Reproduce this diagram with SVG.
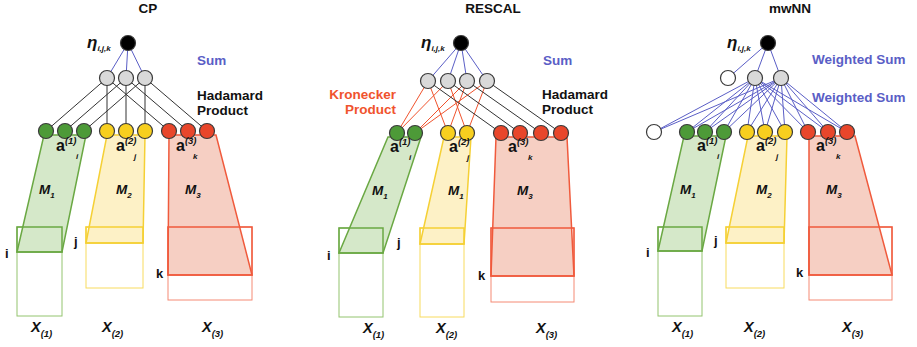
<svg xmlns="http://www.w3.org/2000/svg" width="917" height="347" viewBox="0 0 917 347">
<style>
text{font-family:"Liberation Sans",Arial,sans-serif;font-weight:bold;fill:#111}
.t{font-size:13.5px}
.blue{fill:#5a5ec6}
.kr{fill:#f0532d}
.eta{font-size:17px;font-style:italic}
.es{font-size:8px;font-style:italic}
.a{font-size:16px}
.sup{font-size:9.5px;font-style:italic}
.sub{font-size:8px;font-style:italic}
.xs{font-size:9.5px;font-style:italic}
.M{font-size:13.5px;font-style:italic}
.X{font-size:14.5px;font-style:italic}
.ijk{font-size:13px}
.n{stroke:#3a3a3a;stroke-width:1.2}
.g{fill:#4d9a38}.y{fill:#f7cf1f}.r{fill:#e8462b}.gr{fill:#d9d9d9}.bk{fill:#000}.w{fill:#fff}
.lk{stroke:#333;stroke-width:1;fill:none}
.lb{stroke:#5a5ec6;stroke-width:1;fill:none}
.lr{stroke:#f0532d;stroke-width:1;fill:none}
.gp{fill:#d5e8c9;stroke:#6aa843;stroke-width:1.5}
.yp{fill:#fdf1c6;stroke:#f5d035;stroke-width:1.5}
.rp{fill:#f6cfc3;stroke:#f05a3c;stroke-width:1.5}
.go{fill:#fff;stroke:#93c46e;stroke-width:1}
.yo{fill:#fff;stroke:#f8db5e;stroke-width:1}
.ro{fill:#fff;stroke:#f58a74;stroke-width:1}
.gi{fill:none;stroke:#6aa843;stroke-width:1.5}
.yi{fill:none;stroke:#f5d035;stroke-width:1.5}
.ri{fill:none;stroke:#f05a3c;stroke-width:1.5}
</style>

<!-- ===== CP panel ===== -->
<g id="cp-title"><text class="t" x="148" y="13" text-anchor="middle">CP</text></g>
<g id="cp-matrices">
  <rect class="go" x="17" y="227" width="45" height="89"/>
  <polygon class="gp" points="44,135 86,135 62,252 17,252"/>
  <rect class="gi" x="17" y="227" width="45" height="25"/>
  <rect class="yo" x="86" y="227" width="57" height="61"/>
  <polygon class="yp" points="107,135 145,135 143,243 86,243"/>
  <rect class="yi" x="86" y="227" width="57" height="16"/>
  <rect class="ro" x="168" y="227" width="84" height="73"/>
  <polygon class="rp" points="169,135 216,135 252,275 168,275"/>
  <rect class="ri" x="168" y="227" width="84" height="48"/>
</g>
<g id="cp-connectors">
  <line class="lb" x1="128" y1="43" x2="107" y2="78"/>
  <line class="lb" x1="128" y1="43" x2="126" y2="78"/>
  <line class="lb" x1="128" y1="43" x2="145" y2="78"/>
  <line class="lk" x1="107" y1="78" x2="46" y2="131"/>
  <line class="lk" x1="107" y1="78" x2="107" y2="131"/>
  <line class="lk" x1="107" y1="78" x2="169" y2="131"/>
  <line class="lk" x1="126" y1="78" x2="65" y2="131"/>
  <line class="lk" x1="126" y1="78" x2="126" y2="131"/>
  <line class="lk" x1="126" y1="78" x2="188" y2="131"/>
  <line class="lk" x1="145" y1="78" x2="84" y2="131"/>
  <line class="lk" x1="145" y1="78" x2="145" y2="131"/>
  <line class="lk" x1="145" y1="78" x2="207" y2="131"/>
</g>
<g id="cp-eta"><circle class="n bk" cx="128" cy="43" r="7.5"/>
  <text x="87" y="48"><tspan class="eta">η</tspan><tspan class="es" dy="3">i,j,k</tspan></text></g>
<g id="cp-hidden"><circle class="n gr" cx="107" cy="78" r="7.5"/><circle class="n gr" cx="126" cy="78" r="7.5"/><circle class="n gr" cx="145" cy="78" r="7.5"/></g>
<g id="cp-a1"><circle class="n g" cx="46" cy="131" r="7.5"/><circle class="n g" cx="65" cy="131" r="7.5"/><circle class="n g" cx="84" cy="131" r="7.5"/></g>
<g id="cp-a2"><circle class="n y" cx="107" cy="131" r="7.5"/><circle class="n y" cx="126" cy="131" r="7.5"/><circle class="n y" cx="145" cy="131" r="7.5"/></g>
<g id="cp-a3"><circle class="n r" cx="169" cy="131" r="7.5"/><circle class="n r" cx="188" cy="131" r="7.5"/><circle class="n r" cx="207" cy="131" r="7.5"/></g>
<g id="cp-labels">
  <text class="t blue" x="197" y="65">Sum</text>
  <text class="t" x="197" y="100">Hadamard</text>
  <text class="t" x="197" y="115">Product</text>
  <text x="56" y="151"><tspan class="a">a</tspan><tspan class="sup" dy="-7">(1)</tspan></text><text class="sub" x="76" y="159">i</text>
  <text x="116" y="151"><tspan class="a">a</tspan><tspan class="sup" dy="-7">(2)</tspan></text><text class="sub" x="134" y="159">j</text>
  <text x="176" y="151"><tspan class="a">a</tspan><tspan class="sup" dy="-7">(3)</tspan></text><text class="sub" x="193" y="159">k</text>
  <text x="39" y="194"><tspan class="M">M</tspan><tspan class="sub" dy="4">1</tspan></text>
  <text x="116" y="194"><tspan class="M">M</tspan><tspan class="sub" dy="4">2</tspan></text>
  <text x="185" y="194"><tspan class="M">M</tspan><tspan class="sub" dy="4">3</tspan></text>
  <text class="ijk" x="5" y="258">i</text>
  <text class="ijk" x="74" y="246">j</text>
  <text class="ijk" x="156" y="278">k</text>
  <text x="31" y="332"><tspan class="X">X</tspan><tspan class="xs" dy="5">(1)</tspan></text>
  <text x="102" y="332"><tspan class="X">X</tspan><tspan class="xs" dy="5">(2)</tspan></text>
  <text x="202" y="332"><tspan class="X">X</tspan><tspan class="xs" dy="5">(3)</tspan></text>
</g>

<!-- ===== RESCAL panel ===== -->
<g id="rescal-title"><text class="t" x="493" y="13" text-anchor="middle">RESCAL</text></g>
<g id="rescal-matrices">
  <rect class="go" x="339" y="228" width="44" height="89"/>
  <polygon class="gp" points="388,137 421,137 383,253 339,253"/>
  <rect class="gi" x="339" y="228" width="44" height="25"/>
  <rect class="yo" x="420" y="228" width="44" height="89"/>
  <polygon class="yp" points="444,137 471,137 464,244 420,244"/>
  <rect class="yi" x="420" y="228" width="44" height="16"/>
  <rect class="ro" x="491" y="228" width="83" height="74"/>
  <polygon class="rp" points="496,137 567,137 574,276 491,276"/>
  <rect class="ri" x="491" y="228" width="83" height="48"/>
</g>
<g id="rescal-connectors">
  <line class="lb" x1="461" y1="43" x2="428" y2="81"/>
  <line class="lb" x1="461" y1="43" x2="448" y2="81"/>
  <line class="lb" x1="461" y1="43" x2="467" y2="81"/>
  <line class="lb" x1="461" y1="43" x2="487" y2="81"/>
  <line class="lr" x1="397" y1="133" x2="428" y2="81"/>
  <line class="lr" x1="397" y1="133" x2="448" y2="81"/>
  <line class="lr" x1="415" y1="133" x2="467" y2="81"/>
  <line class="lr" x1="415" y1="133" x2="487" y2="81"/>
  <line class="lr" x1="448" y1="133" x2="428" y2="81"/>
  <line class="lr" x1="448" y1="133" x2="467" y2="81"/>
  <line class="lr" x1="467" y1="133" x2="448" y2="81"/>
  <line class="lr" x1="467" y1="133" x2="487" y2="81"/>
  <line class="lk" x1="428" y1="81" x2="501" y2="133"/>
  <line class="lk" x1="448" y1="81" x2="520" y2="133"/>
  <line class="lk" x1="467" y1="81" x2="541" y2="133"/>
  <line class="lk" x1="487" y1="81" x2="561" y2="133"/>
</g>
<g id="rescal-eta"><circle class="n bk" cx="461" cy="43" r="7.5"/>
  <text x="421" y="48"><tspan class="eta">η</tspan><tspan class="es" dy="3">i,j,k</tspan></text></g>
<g id="rescal-hidden"><circle class="n gr" cx="428" cy="81" r="7.5"/><circle class="n gr" cx="448" cy="81" r="7.5"/><circle class="n gr" cx="467" cy="81" r="7.5"/><circle class="n gr" cx="487" cy="81" r="7.5"/></g>
<g id="rescal-a1"><circle class="n g" cx="397" cy="133" r="7.5"/><circle class="n g" cx="415" cy="133" r="7.5"/></g>
<g id="rescal-a2"><circle class="n y" cx="448" cy="133" r="7.5"/><circle class="n y" cx="467" cy="133" r="7.5"/></g>
<g id="rescal-a3"><circle class="n r" cx="501" cy="133" r="7.5"/><circle class="n r" cx="520" cy="133" r="7.5"/><circle class="n r" cx="541" cy="133" r="7.5"/><circle class="n r" cx="561" cy="133" r="7.5"/></g>
<g id="rescal-labels">
  <text class="t blue" x="543" y="65">Sum</text>
  <text class="t kr" x="396" y="99" text-anchor="end">Kronecker</text>
  <text class="t kr" x="396" y="114" text-anchor="end">Product</text>
  <text class="t" x="542" y="99">Hadamard</text>
  <text class="t" x="542" y="114">Product</text>
  <text x="390" y="152"><tspan class="a">a</tspan><tspan class="sup" dy="-7">(1)</tspan></text><text class="sub" x="409" y="160">i</text>
  <text x="449" y="152"><tspan class="a">a</tspan><tspan class="sup" dy="-7">(2)</tspan></text><text class="sub" x="467" y="160">j</text>
  <text x="508" y="152"><tspan class="a">a</tspan><tspan class="sup" dy="-7">(3)</tspan></text><text class="sub" x="528" y="160">k</text>
  <text x="372" y="195"><tspan class="M">M</tspan><tspan class="sub" dy="4">1</tspan></text>
  <text x="448" y="195"><tspan class="M">M</tspan><tspan class="sub" dy="4">1</tspan></text>
  <text x="517" y="195"><tspan class="M">M</tspan><tspan class="sub" dy="4">3</tspan></text>
  <text class="ijk" x="327" y="260">i</text>
  <text class="ijk" x="397" y="247">j</text>
  <text class="ijk" x="478" y="280">k</text>
  <text x="363" y="333"><tspan class="X">X</tspan><tspan class="xs" dy="5">(1)</tspan></text>
  <text x="436" y="333"><tspan class="X">X</tspan><tspan class="xs" dy="5">(2)</tspan></text>
  <text x="536" y="333"><tspan class="X">X</tspan><tspan class="xs" dy="5">(3)</tspan></text>
</g>

<!-- ===== mwNN panel ===== -->
<g id="mwnn-title"><text class="t" x="790" y="13" text-anchor="middle">mwNN</text></g>
<g id="mwnn-matrices">
  <rect class="go" x="658" y="227" width="44" height="89"/>
  <polygon class="gp" points="684,136 726,136 702,251 658,251"/>
  <rect class="gi" x="658" y="227" width="44" height="24"/>
  <rect class="yo" x="726" y="227" width="58" height="61"/>
  <polygon class="yp" points="748,136 787,136 784,243 726,243"/>
  <rect class="yi" x="726" y="227" width="58" height="16"/>
  <rect class="ro" x="809" y="227" width="83" height="73"/>
  <polygon class="rp" points="809,136 855,136 892,275 809,275"/>
  <rect class="ri" x="809" y="227" width="83" height="48"/>
</g>
<g id="mwnn-connectors">
  <line class="lb" x1="768" y1="43" x2="728" y2="78"/>
  <line class="lb" x1="768" y1="43" x2="755" y2="78"/>
  <line class="lb" x1="768" y1="43" x2="781" y2="78"/>
  <path class="lb" d="M755,78L654,132M755,78L687,132M755,78L705,132M755,78L724,132M755,78L747,132M755,78L765,132M755,78L785,132M755,78L808,132M755,78L828,132M755,78L847,132"/>
  <path class="lb" d="M781,78L654,132M781,78L687,132M781,78L705,132M781,78L724,132M781,78L747,132M781,78L765,132M781,78L785,132M781,78L808,132M781,78L828,132M781,78L847,132"/>
</g>
<g id="mwnn-eta"><circle class="n bk" cx="768" cy="43" r="7.5"/>
  <text x="727" y="48"><tspan class="eta">η</tspan><tspan class="es" dy="3">i,j,k</tspan></text></g>
<g id="mwnn-hidden"><circle class="n w" cx="728" cy="78" r="7.5"/><circle class="n gr" cx="755" cy="78" r="7.5"/><circle class="n gr" cx="781" cy="78" r="7.5"/></g>
<g id="mwnn-bias"><circle class="n w" cx="654" cy="132" r="7.5"/></g>
<g id="mwnn-a1"><circle class="n g" cx="687" cy="132" r="7.5"/><circle class="n g" cx="705" cy="132" r="7.5"/><circle class="n g" cx="724" cy="132" r="7.5"/></g>
<g id="mwnn-a2"><circle class="n y" cx="747" cy="132" r="7.5"/><circle class="n y" cx="765" cy="132" r="7.5"/><circle class="n y" cx="785" cy="132" r="7.5"/></g>
<g id="mwnn-a3"><circle class="n r" cx="808" cy="132" r="7.5"/><circle class="n r" cx="828" cy="132" r="7.5"/><circle class="n r" cx="847" cy="132" r="7.5"/></g>
<g id="mwnn-labels">
  <text class="t blue" x="812" y="64">Weighted Sum</text>
  <text class="t blue" x="812" y="102">Weighted Sum</text>
  <text x="697" y="151"><tspan class="a">a</tspan><tspan class="sup" dy="-7">(1)</tspan></text><text class="sub" x="717" y="159">i</text>
  <text x="756" y="151"><tspan class="a">a</tspan><tspan class="sup" dy="-7">(2)</tspan></text><text class="sub" x="776" y="159">j</text>
  <text x="816" y="151"><tspan class="a">a</tspan><tspan class="sup" dy="-7">(3)</tspan></text><text class="sub" x="836" y="159">k</text>
  <text x="680" y="194"><tspan class="M">M</tspan><tspan class="sub" dy="4">1</tspan></text>
  <text x="756" y="194"><tspan class="M">M</tspan><tspan class="sub" dy="4">2</tspan></text>
  <text x="826" y="194"><tspan class="M">M</tspan><tspan class="sub" dy="4">3</tspan></text>
  <text class="ijk" x="646" y="257">i</text>
  <text class="ijk" x="714" y="245">j</text>
  <text class="ijk" x="796" y="277">k</text>
  <text x="672" y="332"><tspan class="X">X</tspan><tspan class="xs" dy="5">(1)</tspan></text>
  <text x="744" y="332"><tspan class="X">X</tspan><tspan class="xs" dy="5">(2)</tspan></text>
  <text x="842" y="332"><tspan class="X">X</tspan><tspan class="xs" dy="5">(3)</tspan></text>
</g>
</svg>
